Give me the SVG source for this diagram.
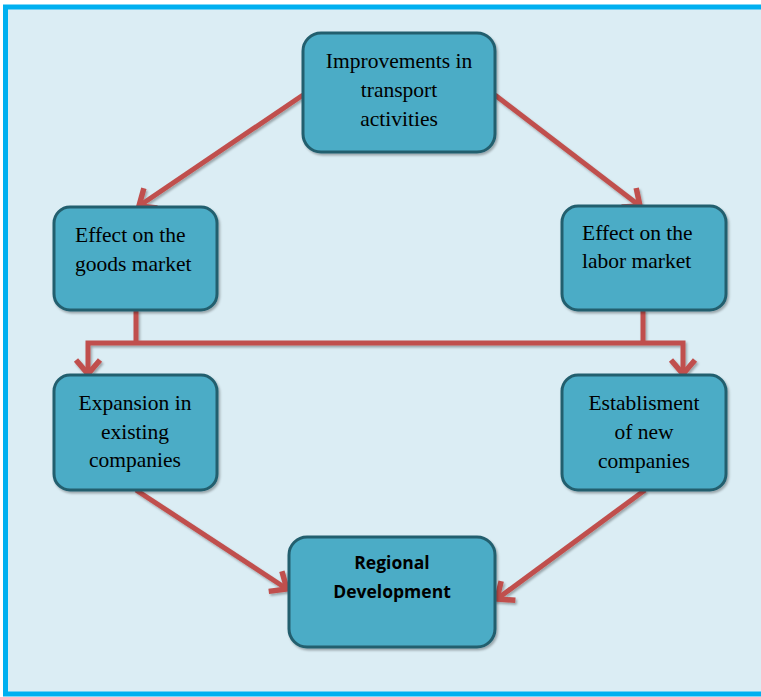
<svg xmlns="http://www.w3.org/2000/svg" width="761" height="697" viewBox="0 0 761 697">
<defs>
<style>
.node{fill:#4BACC6;stroke:#245E6E;stroke-width:3}
.t{font-family:"Liberation Serif","Times New Roman",serif;font-size:21.5px;fill:#000}
.tb{font-family:"Open Sans","Liberation Sans",Arial,sans-serif;font-size:17.5px;font-weight:bold;fill:#000}
.c{fill:none;stroke:#C0504D;stroke-width:5;stroke-linejoin:miter}
</style>
<marker id="ah" markerUnits="userSpaceOnUse" markerWidth="34" markerHeight="34" refX="16" refY="14" viewBox="0 0 34 28" orient="auto-start-reverse">
<path d="M2,2 L16,14 L2,26" fill="none" stroke="#C0504D" stroke-width="5.5" stroke-linejoin="miter"/>
</marker>
<filter id="sh" x="-10%" y="-10%" width="130%" height="130%">
<feDropShadow dx="1.5" dy="2" stdDeviation="1.2" flood-color="#000" flood-opacity="0.3"/>
</filter>
</defs>
<rect x="0" y="0" width="761" height="697" fill="#FFFFFF"/>
<rect x="5.5" y="7" width="770" height="687" fill="#DBEDF4" stroke="#00B0F0" stroke-width="5"/>

<g id="connectors" filter="url(#sh)">
<line class="c" x1="303" y1="95" x2="139" y2="206" marker-end="url(#ah)"/>
<line class="c" x1="495" y1="95" x2="640" y2="206" marker-end="url(#ah)"/>
<polyline class="c" points="136,310 136,343"/>
<polyline class="c" points="643,310 643,343"/>
<polyline class="c" points="88,374 88,343 683,343 683,374" marker-start="url(#ah)" marker-end="url(#ah)"/>
<line class="c" x1="136" y1="490" x2="287" y2="589" marker-end="url(#ah)"/>
<line class="c" x1="645" y1="490" x2="497" y2="599" marker-end="url(#ah)"/>
</g>

<g id="n-improvements">
<rect class="node" x="303" y="33" width="192" height="119" rx="18" filter="url(#sh)"/>
<text class="t" text-anchor="middle"><tspan x="399" y="68">Improvements in</tspan><tspan x="399" y="97">transport</tspan><tspan x="399" y="126">activities</tspan></text>
</g>
<g id="n-goods">
<rect class="node" x="54" y="207" width="163" height="103" rx="16" filter="url(#sh)"/>
<text class="t"><tspan x="75" y="242">Effect on the</tspan><tspan x="75" y="271">goods market</tspan></text>
</g>
<g id="n-labor">
<rect class="node" x="562" y="206" width="164" height="104" rx="16" filter="url(#sh)"/>
<text class="t"><tspan x="582" y="240">Effect on the</tspan><tspan x="582" y="268">labor market</tspan></text>
</g>
<g id="n-expansion">
<rect class="node" x="54" y="375" width="163" height="115" rx="16" filter="url(#sh)"/>
<text class="t" text-anchor="middle"><tspan x="135" y="410">Expansion in</tspan><tspan x="135" y="439">existing</tspan><tspan x="135" y="467">companies</tspan></text>
</g>
<g id="n-establishment">
<rect class="node" x="562" y="375" width="164" height="115" rx="16" filter="url(#sh)"/>
<text class="t" text-anchor="middle"><tspan x="644" y="410">Establisment</tspan><tspan x="644" y="439">of new</tspan><tspan x="644" y="468">companies</tspan></text>
</g>
<g id="n-regional">
<rect class="node" x="289" y="537" width="206" height="110" rx="18" filter="url(#sh)"/>
<text class="tb" text-anchor="middle"><tspan x="392" y="569">Regional</tspan><tspan x="392" y="598">Development</tspan></text>
</g>
</svg>
